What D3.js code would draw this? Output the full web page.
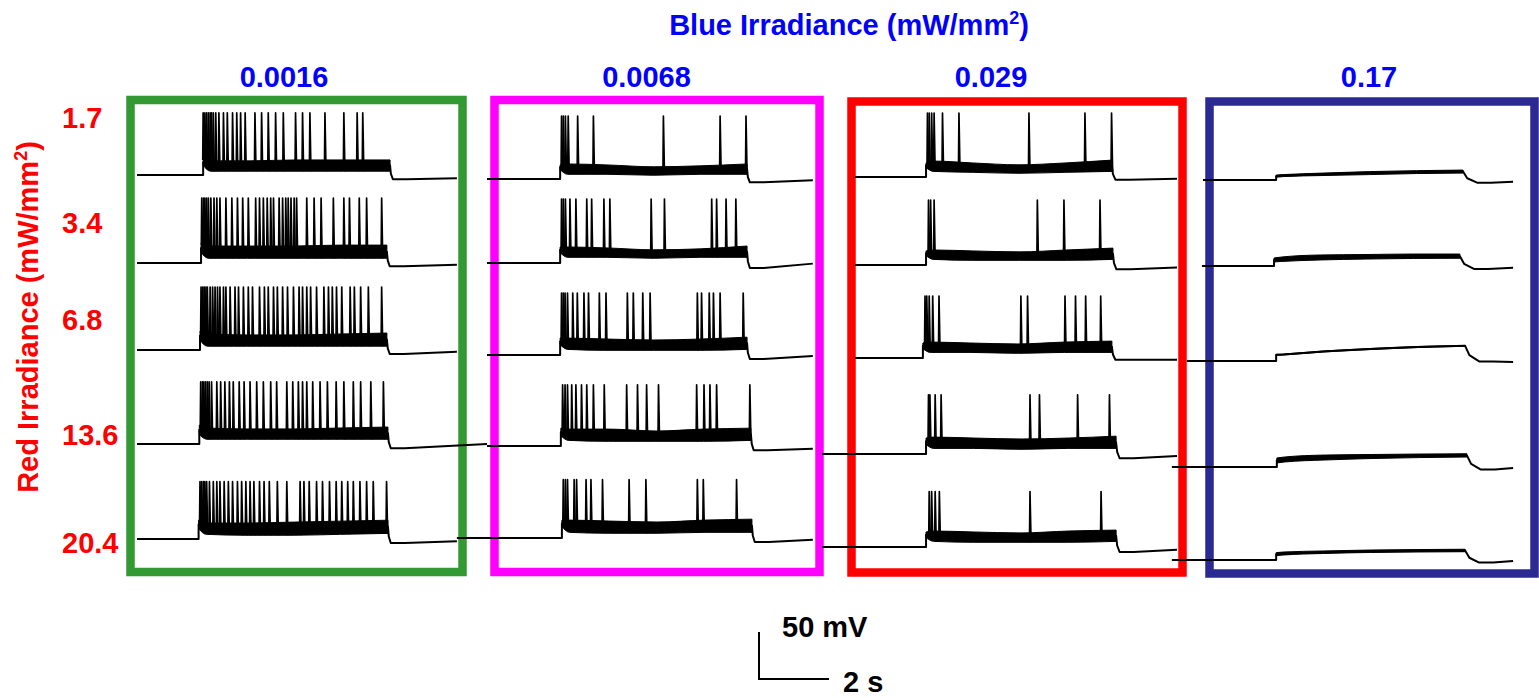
<!DOCTYPE html>
<html>
<head>
<meta charset="utf-8">
<script src="https://cdn.jsdelivr.net/npm/d3@7"></script>
<style>
  html, body { margin: 0; padding: 0; background: #fff; }
  svg { display: block; }
</style>
</head>
<body>
<svg id="fig" width="1539" height="698"></svg>
<script>
// ---------------- labels ----------------
const blueIrradiance = ["0.0016", "0.0068", "0.029", "0.17"];
const redIrradiance = ["1.7", "3.4", "6.8", "13.6", "20.4"];
const panelColors = ["#339933", "#ff00ff", "#ff0000", "#2b2a92"];

// ---------------- sweep timing (s, from each panel's time origin) ----------------
const sweepStart = [
  [0, 0, 0, 0, 0],
  [0, 0, 0, 0, -0.86],
  [0, 0, 0, -0.94, -0.94],
  [0, -0.03, -0.46, -0.89, -0.89]
];
const sweepEnd = [
  [9.14, 9.14, 9.14, 10.0, 9.14],
  [9.31, 9.31, 9.31, 9.31, 9.31],
  [9.2, 9.2, 9.2, 9.2, 9.2],
  [8.86, 8.86, 8.86, 8.86, 8.86]
];
const lightOn = [
  [1.89, 1.83, 1.80, 1.78, 1.76],
  [2.09, 2.09, 2.09, 2.11, 2.14],
  [2.03, 2.03, 1.94, 2.03, 2.03],
  [2.09, 2.03, 2.09, 2.11, 2.09]
];
const lightOff = [
  [7.23, 7.14, 7.14, 7.17, 7.17],
  [7.43, 7.43, 7.43, 7.54, 7.57],
  [7.34, 7.37, 7.34, 7.46, 7.46],
  [7.43, 7.34, 7.49, 7.54, 7.49]
];
// repolarisation time after light off (s), per panel
const offsetDecay = [0.08, 0.08, 0.1, 0.4];

// ---------------- membrane potential (mV) ----------------
const restMV = [
  [-58.9, -58.9, -55.7, -55.7, -54.7],
  [-63.2, -58.9, -61.1, -57.9, -53.6],
  [-61.1, -61.1, -64.3, -66.4, -63.2],
  [-64.3, -62.1, -67.4, -80.2, -77.0]
];
// spike peak, mV above rest
const spikePeakMV = [
  [66, 69, 67, 66, 61],
  [67, 68, 66, 65, 62],
  [68, 69, 66, 63, 59],
  [0, 0, 0, 0, 0]
];
// plateau envelope during light (mV above rest) at fractions of the light period
const plateauFrac = [0, 0.04, 0.25, 0.5, 0.75, 1];
const plateauLow = [
  [[10, 4, 4, 4, 4, 4], [11, 5, 5, 5, 5, 5], [10, 4, 4, 4, 4, 4], [10, 5, 5, 5, 5, 5], [11, 5, 4, 4, 5, 6]],
  [[10, 5, 5, 4, 5, 5], [11, 6, 6, 5, 6, 6], [11, 6, 5, 5, 5, 6], [11, 6, 5, 5, 5, 6], [12, 6, 5, 5, 6, 6]],
  [[10, 6, 5, 4, 5, 6], [10, 6, 5, 5, 5, 6], [10, 6, 6, 5, 6, 6], [10, 6, 6, 5, 6, 6], [10, 6, 5, 5, 5, 6]],
  [[3, 3.7, 4.8, 5.8, 6.9, 7.4], [4.3, 4.8, 6.4, 7.4, 8, 8.2], [6, 6.4, 9.6, 12.2, 14.3, 15.6],
   [4.3, 5.3, 7.4, 9, 10, 10.6], [4.6, 5.3, 6.9, 8, 8.5, 8.8]]
];
const plateauHigh = [
  [[17, 15, 15, 16, 16, 16], [21, 18, 18, 18, 19, 19], [20, 17, 16, 16, 17, 18], [20, 17, 16, 16, 17, 18], [20, 17, 17, 18, 19, 20]],
  [[15, 16, 15, 13, 14, 16], [17, 17, 16, 14, 15, 18], [18, 18, 17, 16, 17, 19], [19, 18, 18, 16, 18, 19], [19, 19, 18, 17, 19, 20]],
  [[15, 17, 15, 13, 15, 18], [15, 16, 15, 14, 16, 18], [16, 17, 16, 15, 17, 18], [17, 18, 17, 16, 17, 19], [16, 17, 16, 15, 17, 18]],
  [[5.3, 5.8, 7.4, 9, 10, 10.6], [8.5, 9.5, 11.7, 12.2, 12.7, 12.7], [7, 7.4, 10.6, 13.3, 15.4, 16.5],
   [9.6, 10.6, 12.7, 13.3, 13.8, 14.1], [7.8, 8.5, 9.6, 10.6, 11.1, 11.4]]
];
// after light off: [undershoot, level at sweep end], mV relative to rest
const afterMV = [
  [[-4.5, -3.5], [-3.5, -1.8], [-4.3, -1.8], [-4.5, 0], [-4.3, -2.5]],
  [[-3.5, -1.4], [-5.3, -0.7], [-4.3, -1], [-4.5, -2.8], [-4.3, -1.8]],
  [[-2.8, -1.8], [-4.5, -2.5], [-1.8, -1.8], [-4.5, -2.1], [-5.3, -2.8]],
  [[-2.8, -1.8], [-3.2, -1.8], [-0.5, -1], [-2.8, -1], [-2.8, -1]]
];

// ---------------- spike times (s) ----------------
const greenSpikes = [
  [1.89, 1.94, 1.99, 2.04, 2.09, 2.13, 2.18, 2.25, 2.34, 2.47, 2.58, 2.73, 2.85, 2.96, 3.09, 3.37, 3.56, 3.75, 3.96, 4.18, 4.53, 4.73, 4.94, 5.37, 5.91, 6.29, 6.45],
  [1.85, 1.90, 1.94, 1.99, 2.04, 2.11, 2.20, 2.28, 2.37, 2.54, 2.71, 2.87, 3.02, 3.18, 3.39, 3.50, 3.61, 3.72, 3.82, 3.90, 4.06, 4.16, 4.25, 4.32, 4.40, 4.49, 4.56, 4.85, 5.06, 5.26, 5.61, 5.91, 6.07, 6.35, 6.56, 6.99],
  [1.83, 1.88, 1.92, 1.97, 2.01, 2.09, 2.16, 2.23, 2.30, 2.37, 2.47, 2.54, 2.66, 2.80, 2.90, 3.04, 3.18, 3.30, 3.50, 3.64, 3.75, 3.90, 4.01, 4.16, 4.30, 4.47, 4.63, 4.73, 4.85, 4.96, 5.13, 5.34, 5.47, 5.58, 5.70, 5.85, 6.09, 6.21, 6.39, 6.61, 6.99],
  [1.82, 1.87, 1.91, 1.96, 2.01, 2.06, 2.13, 2.28, 2.39, 2.51, 2.64, 2.75, 2.92, 3.06, 3.23, 3.42, 3.61, 3.82, 3.99, 4.28, 4.45, 4.61, 4.73, 4.85, 5.02, 5.23, 5.44, 5.69, 5.91, 6.18, 6.39, 6.68, 7.04],
  [1.80, 1.85, 1.90, 1.94, 1.99, 2.07, 2.18, 2.28, 2.37, 2.49, 2.61, 2.73, 2.87, 2.99, 3.11, 3.23, 3.34, 3.50, 3.63, 3.78, 4.01, 4.28, 4.66, 4.77, 4.92, 5.13, 5.30, 5.50, 5.69, 5.85, 6.02, 6.18, 6.37, 6.56, 6.75, 7.13]
];
const magentaSpikes = [
  [2.13, 2.18, 2.24, 2.32, 2.59, 3.04, 5.04, 6.66, 7.40],
  [2.13, 2.18, 2.24, 2.37, 2.54, 2.85, 2.99, 3.34, 3.51, 4.69, 5.07, 6.42, 6.56, 6.83, 7.11],
  [2.13, 2.18, 2.23, 2.30, 2.45, 2.58, 2.77, 2.90, 3.21, 3.40, 4.01, 4.18, 4.45, 4.66, 6.01, 6.13, 6.35, 6.47, 6.66, 7.32],
  [2.16, 2.23, 2.30, 2.42, 2.54, 2.70, 2.85, 3.04, 3.35, 3.99, 4.30, 4.56, 4.90, 5.99, 6.20, 6.37, 6.56, 7.51],
  [2.18, 2.24, 2.30, 2.49, 2.56, 2.83, 2.97, 3.30, 4.06, 4.54, 6.01, 6.18, 7.13]
];
const redSpikes = [
  [2.07, 2.12, 2.19, 2.26, 2.50, 2.97, 4.97, 6.57, 7.33],
  [2.10, 2.16, 2.26, 5.21, 5.97, 7.00],
  [2.00, 2.05, 2.12, 2.22, 2.40, 4.74, 4.93, 6.00, 6.30, 6.59, 7.02],
  [2.10, 2.14, 2.29, 2.46, 5.00, 5.27, 6.36, 7.27],
  [2.12, 2.19, 2.29, 2.41, 5.00, 7.03]
];
const navySpikes = [[], [], [], [], []];
const spikeTimes = [greenSpikes, magentaSpikes, redSpikes, navySpikes];

// scale bar
const scaleBarMV = 50, scaleBarS = 2;

// ---------------- layout ----------------
const pxPerSec = 35, pxPerMV = 0.94;
const panelOriginX = [137, 487, 855, 1203];
const rowRefY = [176, 264, 354, 448, 544];   // y of -60 mV in each row
const refMV = -60;
const boxes = [
  { x0: 130.5, x1: 462.5, y0: 100, y1: 572 },
  { x0: 494.5, x1: 819.5, y0: 100, y1: 572 },
  { x0: 851.5, x1: 1182.5, y0: 101.5, y1: 572.5 },
  { x0: 1209.5, x1: 1534.5, y0: 101.5, y1: 573.5 }
];
const font = "'Liberation Sans', Arial, Helvetica, sans-serif";
const fontSize = 29;

const svg = d3.select("#fig");

const xScales = panelOriginX.map(x0 =>
  d3.scaleLinear().domain([0, 10]).range([x0, x0 + 10 * pxPerSec]));
const yScales = rowRefY.map(y0 =>
  d3.scaleLinear().domain([refMV, refMV + 100]).range([y0, y0 - 100 * pxPerMV]));

// panel frames
svg.append("g").selectAll("rect").data(boxes).join("rect")
  .attr("x", d => d.x0).attr("y", d => d.y0)
  .attr("width", d => d.x1 - d.x0).attr("height", d => d.y1 - d.y0)
  .attr("fill", "none")
  .attr("stroke", (d, i) => panelColors[i])
  .attr("stroke-width", 8.5);

// traces
const tracesG = svg.append("g");
const lineGen = d3.line().x(d => d[0]).y(d => d[1]);
const areaGen = d3.area().x(d => d[0]).y0(d => d[1]).y1(d => d[2]).curve(d3.curveMonotoneX);

for (let c = 0; c < 4; c++) {
  for (let r = 0; r < 5; r++) {
    const x = xScales[c], y = yScales[r];
    const rest = restMV[c][r];
    const t0 = sweepStart[c][r], t1 = sweepEnd[c][r];
    const on = lightOn[c][r], off = lightOff[c][r];
    const knots = plateauFrac.map(f => on + f * (off - on));
    const lo = plateauLow[c][r], hi = plateauHigh[c][r];
    const loAt = d3.scaleLinear().domain(knots).range(lo).clamp(true);
    const hiAt = d3.scaleLinear().domain(knots).range(hi).clamp(true);
    const [under, endLvl] = afterMV[c][r];
    const dec = offsetDecay[c];
    const midEnd = (lo[lo.length - 1] + hi[hi.length - 1]) / 2;

    // plateau band
    tracesG.append("path")
      .datum(knots.map((k, i) => [x(k), y(rest + lo[i]), y(rest + hi[i])]))
      .attr("d", areaGen)
      .attr("fill", "#000").attr("stroke", "#000").attr("stroke-width", 1);

    // baseline / step / recovery
    const pts = [[t0, 0], [on, 0]];
    knots.forEach((k, i) => pts.push([k, (lo[i] + hi[i]) / 2]));
    pts.push([off + dec * 0.3, midEnd - 0.6 * (midEnd - under)]);
    pts.push([off + dec, under]);
    pts.push([off + dec + 0.4, under]);
    pts.push([t1, endLvl]);
    tracesG.append("path")
      .datum(pts.map(p => [x(p[0]), y(rest + p[1])]))
      .attr("d", lineGen)
      .attr("fill", "none").attr("stroke", "#000")
      .attr("stroke-width", 2).attr("stroke-linejoin", "round");

    // action potentials
    const peak = spikePeakMV[c][r];
    tracesG.append("g").selectAll("path").data(spikeTimes[c][r]).join("path")
      .attr("d", t => lineGen([
        [x(t - 0.012), y(rest + hiAt(t) - 1)],
        [x(t), y(rest + peak)],
        [x(t + 0.03), y(rest + loAt(t))]
      ]))
      .attr("fill", "none").attr("stroke", "#000")
      .attr("stroke-width", 1.7).attr("stroke-linejoin", "round");
  }
}

// top title
const title = svg.append("text")
  .attr("x", 849).attr("y", 35).attr("text-anchor", "middle")
  .attr("font-family", font).attr("font-weight", "bold").attr("font-size", fontSize)
  .attr("fill", "#0000ff");
title.append("tspan").text("Blue Irradiance (mW/mm");
title.append("tspan").attr("dy", -11).attr("font-size", 18).text("2");
title.append("tspan").attr("dy", 11).text(")");

// column labels
const colLabelX = [284, 646.5, 991, 1369];
svg.append("g").selectAll("text").data(blueIrradiance).join("text")
  .attr("x", (d, i) => colLabelX[i]).attr("y", 87)
  .attr("text-anchor", "middle")
  .attr("font-family", font).attr("font-weight", "bold").attr("font-size", fontSize)
  .attr("fill", "#0000ff")
  .text(d => d);

// row labels
const rowLabelY = [128, 233, 330, 445, 553];
svg.append("g").selectAll("text").data(redIrradiance).join("text")
  .attr("x", 62).attr("y", (d, i) => rowLabelY[i])
  .attr("font-family", font).attr("font-weight", "bold").attr("font-size", fontSize)
  .attr("fill", "#ff0000")
  .text(d => d);

// side title
const side = svg.append("text")
  .attr("transform", "translate(38,317) rotate(-90)")
  .attr("text-anchor", "middle")
  .attr("font-family", font).attr("font-weight", "bold").attr("font-size", fontSize)
  .attr("fill", "#ff0000");
side.append("tspan").text("Red Irradiance (mW/mm");
side.append("tspan").attr("dy", -11).attr("font-size", 18).text("2");
side.append("tspan").attr("dy", 11).text(")");

// scale bar
const sbX = d3.scaleLinear().domain([0, scaleBarS]).range([759, 759 + scaleBarS * pxPerSec]);
const sbY = d3.scaleLinear().domain([0, scaleBarMV]).range([679, 679 - scaleBarMV * pxPerMV]);
svg.append("path")
  .attr("d", lineGen([[sbX(0), sbY(scaleBarMV)], [sbX(0), sbY(0)], [sbX(scaleBarS), sbY(0)]]))
  .attr("fill", "none").attr("stroke", "#000").attr("stroke-width", 2);
svg.append("text").attr("x", 782).attr("y", 637)
  .attr("font-family", font).attr("font-weight", "bold").attr("font-size", fontSize)
  .attr("fill", "#000").text(scaleBarMV + " mV");
svg.append("text").attr("x", 843).attr("y", 692)
  .attr("font-family", font).attr("font-weight", "bold").attr("font-size", fontSize)
  .attr("fill", "#000").text(scaleBarS + " s");
</script>
</body>
</html>
